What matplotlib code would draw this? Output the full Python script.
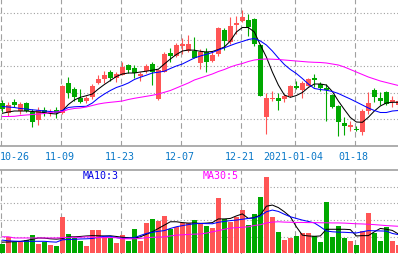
import numpy as np
import matplotlib.pyplot as plt
from matplotlib.transforms import blended_transform_factory

# daily candles, 2020-10-26 .. 2021-01-27 (price units are arbitrary)
opens = [9.60, 8.65, 9.70, 8.85, 9.60, 8.65, 7.95, 8.87, 8.60, 8.90,
         8.60, 11.63, 11.00, 10.10, 9.80, 10.17, 11.60, 12.00, 12.70, 12.08,
         12.45, 13.40, 13.10, 12.27, 12.80, 13.53, 10.00, 12.73, 14.60, 14.30,
         15.35, 14.83, 14.83, 13.60, 14.67, 13.85, 14.50, 16.90, 15.67, 17.43,
         17.83, 17.93, 18.00, 15.43, 8.25, 10.00, 10.10, 10.00, 10.30, 11.27,
         10.90, 11.33, 12.10, 11.53, 11.07, 10.40, 9.27, 7.60, 7.25, 7.00,
         6.67, 8.83, 10.90, 10.12, 10.75, 9.67, 9.45]
highs = [9.90, 9.67, 9.95, 9.73, 9.73, 9.00, 9.20, 9.18, 9.00, 9.20,
         11.43, 12.17, 11.17, 11.00, 10.30, 11.50, 12.37, 12.80, 12.90, 12.73,
         13.67, 13.47, 13.40, 12.67, 13.50, 13.67, 13.03, 14.67, 15.07, 15.60,
         16.10, 16.40, 16.15, 15.00, 15.10, 14.67, 17.17, 17.07, 18.17, 18.27,
         18.90, 18.50, 18.07, 15.47, 10.60, 10.83, 10.60, 10.50, 11.40, 11.83,
         11.75, 12.05, 12.50, 11.73, 11.50, 10.50, 9.37, 8.17, 7.83, 7.33,
         9.00, 10.67, 11.05, 10.65, 10.83, 10.30, 10.30]
lows = [8.70, 8.33, 9.20, 8.50, 8.65, 7.20, 7.43, 8.25, 8.30, 8.10,
        8.50, 10.12, 9.83, 9.60, 9.60, 10.00, 11.50, 11.60, 11.83, 11.73,
        12.37, 12.60, 12.07, 11.83, 12.57, 11.37, 9.90, 12.67, 13.67, 14.17,
        14.45, 14.70, 14.05, 13.00, 12.73, 13.73, 14.27, 14.93, 15.50, 16.50,
        17.73, 16.33, 15.33, 10.27, 6.50, 9.83, 8.93, 9.67, 10.20, 10.95,
        10.07, 11.25, 11.20, 10.83, 7.83, 9.10, 6.27, 6.37, 6.83, 6.83,
        6.40, 8.50, 9.65, 9.40, 9.40, 9.17, 8.80]
closes = [9.00, 9.40, 9.40, 9.53, 8.85, 7.73, 8.87, 8.60, 8.75, 8.60,
          11.33, 10.63, 10.22, 9.75, 10.12, 11.30, 12.03, 12.40, 12.10, 12.50,
          13.23, 12.92, 12.60, 12.50, 13.33, 12.67, 12.90, 14.50, 14.31, 15.40,
          15.47, 15.50, 14.08, 14.73, 13.67, 14.40, 17.07, 15.83, 17.33, 17.60,
          18.17, 17.17, 15.50, 10.35, 10.10, 10.13, 9.83, 10.27, 11.27, 11.07,
          11.60, 12.00, 11.92, 11.08, 10.93, 9.25, 7.75, 7.33, 7.37, 6.90,
          8.83, 9.60, 10.20, 9.83, 9.50, 9.90, 9.80]

ma5 = [8.57, 8.70, 8.80, 8.80, 8.80, 8.75, 8.70, 8.65, 8.55, 8.50,
       8.80, 9.45, 9.90, 10.17, 10.33, 10.50, 11.00, 11.45, 11.85, 12.25,
       12.50, 12.60, 12.60, 12.70, 12.78, 12.88, 12.98, 13.50, 14.00, 14.45,
       14.80, 14.90, 14.88, 14.77, 14.70, 14.75, 14.95, 15.20, 15.80, 16.70,
       17.15, 17.15, 16.70, 15.40, 14.20, 12.70, 11.40, 10.40, 10.17, 10.35,
       10.65, 11.15, 11.50, 11.50, 11.40, 10.75, 9.80, 8.95, 8.15, 7.70,
       7.67, 8.17, 8.80, 9.30, 9.60, 9.67, 9.67]
ma10 = [9.25, 9.20, 9.15, 9.05, 9.00, 8.92, 8.87, 8.80, 8.75, 8.70,
        8.85, 9.15, 9.22, 9.25, 9.27, 9.60, 10.10, 10.50, 10.85, 11.15,
        11.35, 11.60, 11.95, 12.18, 12.38, 12.60, 12.68, 12.78, 13.05, 13.30,
        13.50, 13.80, 14.10, 14.30, 14.47, 14.65, 14.90, 15.12, 15.35, 15.57,
        15.75, 15.95, 16.05, 15.80, 15.40, 14.80, 14.10, 13.45, 12.95, 12.55,
        12.05, 11.50, 11.05, 10.95, 10.88, 10.75, 10.55, 10.27, 10.00, 9.70,
        9.40, 9.10, 8.85, 8.65, 8.65, 8.80, 8.85]
ma30 = [8.25, 8.25, 8.27, 8.35, 8.40, 8.45, 8.50, 8.55, 8.65, 8.70,
        8.75, 8.95, 9.05, 9.10, 9.20, 9.35, 9.50, 9.60, 9.67, 9.73,
        9.80, 9.95, 10.07, 10.17, 10.27, 10.37, 10.50, 10.67, 10.85, 11.10,
        11.35, 11.60, 11.90, 12.10, 12.30, 12.50, 12.75, 12.95, 13.20, 13.40,
        13.55, 13.75, 13.90, 13.97, 14.00, 13.98, 13.95, 13.90, 13.85, 13.80,
        13.75, 13.70, 13.67, 13.65, 13.60, 13.50, 13.40, 13.20, 12.95, 12.70,
        12.45, 12.20, 12.00, 11.80, 11.65, 11.50, 11.35]

volume = [0.57, 0.97, 0.71, 0.71, 0.79, 1.11, 0.57, 0.71, 0.53, 0.45,
          2.20, 1.17, 0.93, 0.77, 0.45, 1.41, 1.41, 1.01, 0.93, 0.65,
          1.11, 0.77, 1.47, 0.77, 1.83, 2.07, 1.97, 2.25, 1.47, 1.59,
          1.81, 1.83, 2.00, 1.77, 1.63, 1.53, 3.32, 2.07, 1.91, 2.19,
          2.60, 1.71, 2.37, 3.38, 4.60, 2.19, 1.29, 0.83, 0.93, 1.07,
          1.23, 1.23, 1.07, 0.71, 3.10, 1.01, 1.65, 0.95, 0.75, 0.51,
          1.37, 2.44, 1.21, 0.77, 1.59, 0.77, 0.51]
vol_ma5 = [0.68, 0.69, 0.71, 0.72, 0.78, 0.85, 0.93, 0.92, 0.88, 0.86,
           0.89, 1.00, 1.00, 1.02, 1.05, 1.07, 1.06, 1.05, 1.06, 1.02,
           0.97, 0.95, 0.92, 1.00, 1.15, 1.30, 1.50, 1.70, 1.90, 1.90,
           1.85, 1.82, 1.83, 1.80, 1.82, 1.85, 2.07, 2.07, 2.10, 2.25,
           2.37, 2.10, 2.15, 2.30, 2.83, 2.90, 2.75, 2.50, 2.20, 1.60,
           1.10, 1.05, 1.03, 1.05, 1.45, 1.45, 1.45, 1.45, 1.43, 1.05,
           1.07, 1.07, 1.30, 1.50, 1.45, 1.38, 1.17]
vol_ma10 = [0.80, 0.76, 0.74, 0.73, 0.73, 0.73, 0.73, 0.73, 0.70, 0.68,
            0.82, 0.84, 0.85, 0.87, 0.88, 0.90, 0.97, 1.03, 1.03, 0.95,
            0.91, 0.92, 0.95, 1.08, 1.20, 1.27, 1.33, 1.37, 1.50, 1.60,
            1.67, 1.73, 1.78, 1.80, 1.79, 1.78, 1.87, 1.92, 1.97, 2.00,
            2.05, 2.10, 2.13, 2.25, 2.50, 2.60, 2.52, 2.35, 2.20, 2.10,
            2.00, 1.92, 1.83, 1.60, 1.35, 1.30, 1.28, 1.27, 1.25, 1.23,
            1.30, 1.37, 1.36, 1.35, 1.34, 1.20, 1.13]
vol_ma30 = [1.00, 1.00, 0.93, 0.93, 0.93, 0.93, 0.93, 0.93, 0.93, 0.93,
            0.95, 0.97, 0.97, 0.97, 1.00, 0.98, 0.95, 0.95, 0.95, 0.95,
            0.88, 0.88, 0.88, 0.90, 0.95, 0.97, 0.98, 1.00, 1.05, 1.10,
            1.12, 1.14, 1.16, 1.17, 1.22, 1.30, 1.37, 1.45, 1.52, 1.55,
            1.57, 1.60, 1.68, 1.72, 1.83, 1.88, 1.90, 1.88, 1.87, 1.86,
            1.86, 1.85, 1.85, 1.84, 1.84, 1.83, 1.83, 1.82, 1.80, 1.78,
            1.77, 1.75, 1.73, 1.70, 1.67, 1.65, 1.63]

date_labels = ['10-26', '11-09', '11-23', '12-07', '12-21', '2021-01-04', '01-18']
date_pos = [0, 10, 20, 30, 40, 49, 59]

RED = '#ff5555'
GREEN = '#00a800'
GRID = '#a0a0a0'
LABEL = '#0a78c8'
MONO = 'DejaVu Sans Mono'
LW = 0.75

o = np.array(opens)
c = np.array(closes)
x = np.arange(len(o))
up = c >= o
cols = np.where(up, RED, GREEN)

fig = plt.figure(figsize=(3.98, 2.55), dpi=100)
ax = fig.add_axes([0, 108 / 255, 1, 147 / 255])
axv = fig.add_axes([0, 0, 1, 84 / 255])

xl = (-2.35 / 6, (398 - 2.35) / 6)
for a in (ax, axv):
    a.set_xlim(*xl)
    a.set_xticks([])
    a.set_yticks([])
    for s in a.spines.values():
        s.set_visible(False)
    for p in date_pos:
        a.axvline(p - 0.27, color=GRID, lw=0.8, ls=(0, (5, 3)), zorder=0)

ax.set_ylim(5.3, 20)
for g in [18.6, 15.94, 13.28, 10.62, 7.96]:
    ax.axhline(g, color=GRID, lw=0.8, ls=(0, (1, 2)), zorder=0)
ax.spines['bottom'].set_visible(True)
ax.spines['bottom'].set_color(GRID)
ax.spines['bottom'].set_linewidth(1.2)

# candles
ax.vlines(x, lows, highs, colors=cols, lw=0.8, zorder=2)
body = np.maximum(np.abs(c - o), 0.1)
ax.bar(x, body, bottom=np.minimum(o, c), width=0.78, color=cols, zorder=3)

ax.plot(x, ma5, color='black', lw=LW, zorder=4)
ax.plot(x, ma10, color='#0000ff', lw=LW, zorder=4)
ax.plot(x, ma30, color='#ff00ff', lw=LW, zorder=4)

# date labels between the panels
tr = blended_transform_factory(ax.transData, ax.transAxes)
for p, lab in zip(date_pos, date_labels):
    if p == 0:
        ax.text(0, -9.5 / 147, lab, transform=ax.transAxes, ha='left', va='center',
                color=LABEL, fontsize=7.2, family=MONO)
    else:
        ax.text(p - 0.45, -9.5 / 147, lab, transform=tr, ha='center', va='center',
                color=LABEL, fontsize=7.2, family=MONO, clip_on=False)

# volume panel
axv.set_ylim(-0.03, 5.0)
for g in [1, 2, 3, 4]:
    axv.axhline(g, color=GRID, lw=0.8, ls=(0, (1, 2)), zorder=0)
axv.spines['top'].set_visible(True)
axv.spines['top'].set_color(GRID)
axv.spines['top'].set_linewidth(1.2)
axv.bar(x, volume, width=0.8, color=cols, zorder=2)
axv.plot(x, vol_ma5, color='black', lw=LW, zorder=3)
axv.plot(x, vol_ma10, color='#0000ff', lw=LW, zorder=3)
axv.plot(x, vol_ma30, color='#ff00ff', lw=LW, zorder=3)

fig.text(100.5 / 398, 1 - 176.3 / 255, 'MA10:3', ha='center', va='center',
         color='#0000e6', fontsize=7.2, family=MONO)
fig.text(220.5 / 398, 1 - 176.3 / 255, 'MA30:5', ha='center', va='center',
         color='#ff00ff', fontsize=7.2, family=MONO)

fig.savefig('out.png', dpi=100)
